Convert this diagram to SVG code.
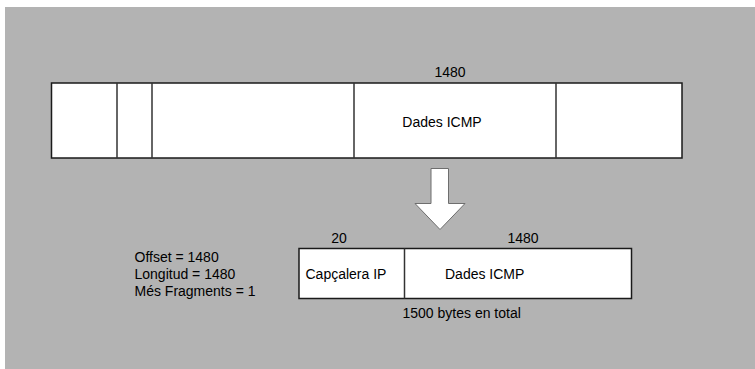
<svg xmlns="http://www.w3.org/2000/svg" width="755" height="369" viewBox="0 0 755 369">
  <style>
    .box { fill: #ffffff; stroke: #1a1a1a; stroke-width: 1.5; }
    .div { stroke: #333333; stroke-width: 1.5; }
    .t { font-family: "Liberation Sans", Arial, sans-serif; font-size: 14px; fill: #000000; }
    .arrow { fill: #ffffff; stroke: #6e6e6e; stroke-width: 1; }
  </style>
  <rect x="0" y="0" width="755" height="369" fill="#ffffff"/>
  <rect x="5" y="7" width="750" height="362" fill="#b3b3b3"/>

  <g id="datagram">
    <rect class="box" x="51.5" y="83" width="630.5" height="75"/>
    <line class="div" x1="117" y1="83" x2="117" y2="158"/>
    <line class="div" x1="152" y1="83" x2="152" y2="158"/>
    <line class="div" x1="354" y1="83" x2="354" y2="158"/>
    <line class="div" x1="556" y1="83" x2="556" y2="158"/>
    <text class="t" x="450" y="77" text-anchor="middle">1480</text>
    <text class="t" x="442" y="127" text-anchor="middle">Dades ICMP</text>
  </g>

  <g id="connectors">
    <polygon class="arrow" points="431,168.5 448.5,168.5 448.5,203.5 465,203.5 440,229.5 415,203.5 431,203.5"/>
  </g>

  <g id="fragment">
    <rect class="box" x="299" y="248.5" width="332.5" height="50"/>
    <line class="div" x1="404.5" y1="248.5" x2="404.5" y2="298.5"/>
    <text class="t" x="339" y="242.5" text-anchor="middle">20</text>
    <text class="t" x="523" y="242.5" text-anchor="middle">1480</text>
    <text class="t" x="305.5" y="278.5">Capçalera IP</text>
    <text class="t" x="445" y="278.5">Dades ICMP</text>
    <text class="t" x="402.5" y="318">1500 bytes en total</text>
  </g>

  <g id="fields">
    <text class="t" x="134.5" y="262">Offset = 1480</text>
    <text class="t" x="134.5" y="279">Longitud = 1480</text>
    <text class="t" x="134.5" y="296">Més Fragments = 1</text>
  </g>
</svg>
